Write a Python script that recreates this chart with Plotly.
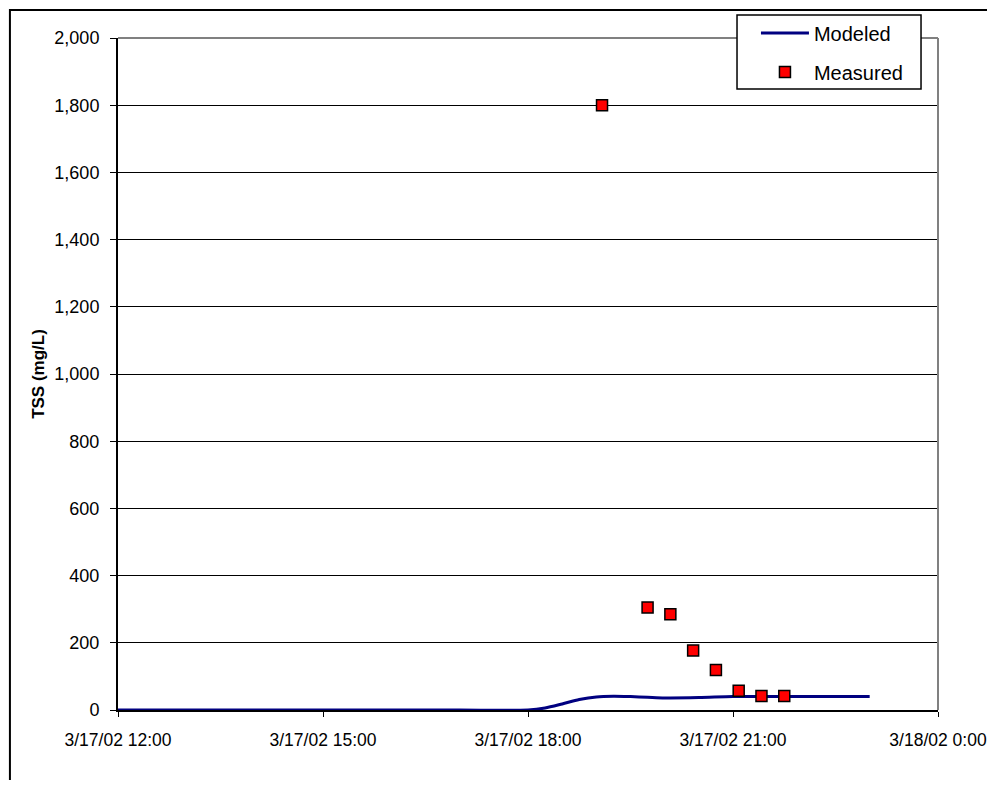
import plotly.graph_objects as go

# Modeled TSS (mg/L)
modeled_time = ["2002-03-17 12:00", "2002-03-17 13:00", "2002-03-17 14:00", "2002-03-17 15:00",
                "2002-03-17 16:00", "2002-03-17 17:00", "2002-03-17 18:00", "2002-03-17 18:15",
                "2002-03-17 18:30", "2002-03-17 18:45", "2002-03-17 19:00", "2002-03-17 19:15",
                "2002-03-17 19:30", "2002-03-17 19:45", "2002-03-17 20:00", "2002-03-17 20:30",
                "2002-03-17 21:00", "2002-03-17 21:30", "2002-03-17 22:00", "2002-03-17 22:30",
                "2002-03-17 23:00"]
modeled_tss = [0, 0, 0, 0, 0, 0, 0, 6, 18, 31, 39, 41, 40, 38, 36, 37, 40, 40, 40, 40, 40]

# Measured TSS (mg/L)
measured_time = ["2002-03-17 19:05", "2002-03-17 19:45", "2002-03-17 20:05", "2002-03-17 20:25",
                 "2002-03-17 20:45", "2002-03-17 21:05", "2002-03-17 21:25", "2002-03-17 21:45"]
measured_tss = [1800, 305, 285, 177, 119, 57, 42, 42]

x_tickvals = ["2002-03-17 12:00", "2002-03-17 15:00", "2002-03-17 18:00",
              "2002-03-17 21:00", "2002-03-18 00:00"]
x_ticktext = ["3/17/02 12:00", "3/17/02 15:00", "3/17/02 18:00",
              "3/17/02 21:00", "3/18/02 0:00"]
y_tickvals = list(range(0, 2001, 200))

FONT = "Arial, Liberation Sans, sans-serif"

fig = go.Figure()
fig.add_trace(go.Scatter(x=modeled_time, y=modeled_tss, mode="lines", name="Modeled",
                         legendgroup="a",
                         line=dict(color="#000080", width=3, shape="spline", smoothing=0.8)))
fig.add_trace(go.Scatter(x=measured_time, y=measured_tss, mode="markers", name="Measured",
                         legendgroup="b",
                         marker=dict(symbol="square", size=11, color="#ff0000",
                                     line=dict(color="#000000", width=1.5))))

fig.update_layout(
    width=979, height=772,
    margin=dict(l=110, r=49, t=30, b=70, autoexpand=False),
    paper_bgcolor="white", plot_bgcolor="white",
    font=dict(family=FONT, size=18, color="black"),
    showlegend=True,
    legend=dict(x=0.778, y=1.0366, xanchor="left", yanchor="top",
                bgcolor="rgba(0,0,0,0)", borderwidth=0,
                font=dict(family=FONT, size=20, color="black"),
                itemwidth=48, traceorder="grouped", tracegroupgap=10),
    xaxis=dict(type="date", range=["2002-03-17 12:00", "2002-03-18 00:00"],
               tickvals=x_tickvals, ticktext=x_ticktext, automargin=False,
               showgrid=False, zeroline=False,
               showline=True, linecolor="black", linewidth=2,
               ticks="outside", ticklen=5, tickcolor="black", tickwidth=1,
               ticklabelstandoff=8,
               tickfont=dict(family=FONT, size=17.5)),
    yaxis=dict(range=[0, 2000], tickvals=y_tickvals, tickformat=",", automargin=False,
               showgrid=True, gridcolor="black", gridwidth=1.2, zeroline=False,
               showline=True, linecolor="black", linewidth=2,
               ticks="outside", ticklen=6, tickcolor="black", tickwidth=1,
               ticklabelstandoff=7,
               tickfont=dict(family=FONT, size=18),
               title=dict(text="<b>TSS (mg/L)</b>", font=dict(family=FONT, size=17), standoff=5)),
    shapes=[
        dict(type="line", xref="paper", yref="paper", x0=0, x1=1, y0=1, y1=1,
             line=dict(color="#808080", width=2), layer="above"),
        dict(type="line", xref="paper", yref="paper", x0=1, x1=1, y0=0, y1=1,
             line=dict(color="#808080", width=2), layer="above"),
        dict(type="rect", xref="paper", yref="paper", x0=-0.1318, x1=1.2, y0=-0.3, y1=1.0415,
             line=dict(color="black", width=2), fillcolor="rgba(0,0,0,0)", layer="below"),
        dict(type="rect", xref="paper", yref="paper", x0=0.7549, x1=0.9793, y0=0.9241, y1=1.0342,
             line=dict(color="black", width=1.5), fillcolor="white", layer="above"),
    ],
)

fig.write_html("out.html", config={"displayModeBar": False})
